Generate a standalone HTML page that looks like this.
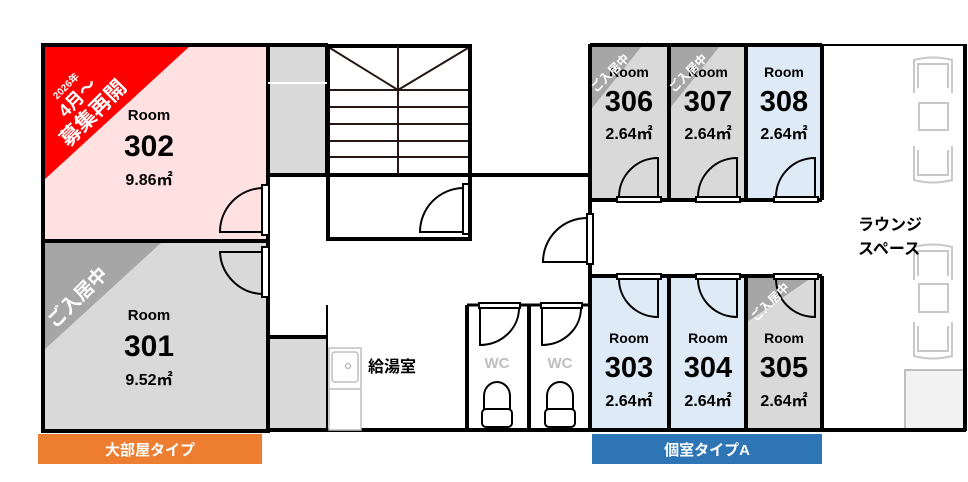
<!DOCTYPE html>
<html><head><meta charset="utf-8"><style>
html,body{margin:0;padding:0;background:#fff;width:968px;height:482px;overflow:hidden}
svg{display:block}
text{font-family:"Liberation Sans","Noto Sans CJK JP",sans-serif;font-weight:bold}
</style></head><body>
<svg width="968" height="482" viewBox="0 0 968 482" xmlns="http://www.w3.org/2000/svg">
<rect x="44" y="46" width="223" height="194" fill="#ffe1e1"/>
<rect x="44" y="242" width="223" height="188" fill="#d9d9d9"/>
<rect x="268" y="46" width="59" height="36" fill="#d9d9d9"/>
<rect x="268" y="84" width="59" height="90" fill="#d9d9d9"/>
<rect x="268" y="337" width="59" height="93" fill="#d9d9d9"/>
<rect x="592" y="46" width="76" height="154" fill="#d9d9d9"/>
<rect x="670" y="46" width="75" height="154" fill="#d9d9d9"/>
<rect x="747" y="46" width="75" height="154" fill="#deebf7"/>
<rect x="592" y="276" width="76" height="154" fill="#deebf7"/>
<rect x="670" y="276" width="75" height="154" fill="#deebf7"/>
<rect x="747" y="276" width="75" height="154" fill="#d9d9d9"/>
<rect x="905" y="370" width="60" height="60" fill="#f2f2f2" stroke="#bfbfbf" stroke-width="2"/>

<polygon points="44,46 190,46 44,180" fill="#ff0000"/>
<polygon points="44,242 162,242 44,350" fill="#a6a6a6"/>
<polygon points="592,46 642,46 592,108" fill="#a6a6a6"/>
<polygon points="670,46 720,46 670,108" fill="#a6a6a6"/>
<polygon points="747,276 814,276 747,322" fill="#a6a6a6"/>

<g stroke="#000" stroke-width="4" fill="none">
<rect x="43" y="45" width="225" height="386"/>
<line x1="43" y1="241" x2="268" y2="241"/>
<line x1="268" y1="45" x2="328" y2="45"/>
<line x1="327" y1="45" x2="327" y2="176"/>
<line x1="268" y1="175" x2="592" y2="175"/>
<line x1="268" y1="337" x2="327" y2="337"/>
<line x1="268" y1="430" x2="592" y2="430"/>
<rect x="328" y="46" width="142" height="193"/>
<line x1="590" y1="44" x2="590" y2="431"/>
<line x1="590" y1="45" x2="822" y2="45"/>
<line x1="590" y1="200" x2="822" y2="200"/>
<line x1="590" y1="276" x2="822" y2="276"/>
<line x1="669" y1="45" x2="669" y2="200"/>
<line x1="746" y1="45" x2="746" y2="200"/>
<line x1="822" y1="45" x2="822" y2="200"/>
<line x1="669" y1="276" x2="669" y2="430"/>
<line x1="746" y1="276" x2="746" y2="430"/>
<line x1="822" y1="276" x2="822" y2="430"/>
<line x1="590" y1="430" x2="966" y2="430"/>
<line x1="965" y1="44" x2="965" y2="431"/>
<line x1="467" y1="305" x2="467" y2="430"/>
<line x1="529" y1="305" x2="529" y2="430"/>
</g>
<line x1="822" y1="45" x2="965" y2="45" stroke="#000" stroke-width="2"/>
<line x1="268" y1="83" x2="327" y2="83" stroke="#fff" stroke-width="2"/>
<line x1="327" y1="305" x2="327" y2="430" stroke="#000" stroke-width="2"/>
<line x1="467" y1="305" x2="590" y2="305" stroke="#000" stroke-width="3"/>

<g stroke="#231815" stroke-width="2">
<line x1="398" y1="46" x2="398" y2="174"/>
<line x1="330" y1="90" x2="468" y2="90"/>
<line x1="330" y1="107" x2="468" y2="107"/>
<line x1="330" y1="124" x2="468" y2="124"/>
<line x1="330" y1="141" x2="468" y2="141"/>
<line x1="330" y1="157" x2="468" y2="157"/>
<line x1="330" y1="48" x2="398" y2="90"/>
<line x1="468" y1="48" x2="398" y2="90"/>
</g>

<g stroke="#000" stroke-width="2" fill="#fff">
<rect x="262" y="185" width="7" height="50"/>
<path d="M262 232 L220 232 A44 44 0 0 1 262 188" fill="none"/>
<rect x="262" y="247" width="7" height="50"/>
<path d="M262 252 L220 252 A44 44 0 0 0 262 294" fill="none"/>
<rect x="463" y="184" width="6" height="50"/>
<path d="M463 232 L420 232 A44 44 0 0 1 463 188" fill="none"/>
<rect x="587" y="214" width="6" height="50"/>
<path d="M587 262 L543 262 A44 44 0 0 1 587 218" fill="none"/>
<rect x="617" y="197" width="44" height="5"/><path d="M619 197 A39 39 0 0 1 658 158 L658 197" fill="none"/>
<rect x="696" y="197" width="44" height="5"/><path d="M698 197 A39 39 0 0 1 737 158 L737 197" fill="none"/>
<rect x="774" y="197" width="44" height="5"/><path d="M776 197 A39 39 0 0 1 815 158 L815 197" fill="none"/>
<rect x="617" y="274" width="44" height="5"/><path d="M619 279 A39 38 0 0 0 658 317 L658 279" fill="none"/>
<rect x="696" y="274" width="44" height="5"/><path d="M698 279 A39 38 0 0 0 737 317 L737 279" fill="none"/>
<rect x="774" y="274" width="44" height="5"/><path d="M776 279 A39 38 0 0 0 815 317 L815 279" fill="none"/>
<rect x="479" y="303" width="41" height="5"/><path d="M480 308 L480 345 A39 37 0 0 0 519 308" fill="none"/>
<rect x="541" y="303" width="41" height="5"/><path d="M542 308 L542 345 A39 37 0 0 0 581 308" fill="none"/>
</g>
<g stroke="#000" stroke-width="2" fill="#fff">
<path d="M484 418 L484 396 A13 14 0 0 1 510 396 L510 418 Z"/><rect x="482" y="409" width="30" height="18" rx="4"/>
<path d="M547 418 L547 396 A13 14 0 0 1 573 396 L573 418 Z"/><rect x="545" y="409" width="30" height="18" rx="4"/>
</g>
<g stroke="#bfbfbf" stroke-width="1.5" fill="#fff">
<rect x="329" y="348" width="32" height="82"/>
<rect x="332" y="352" width="26" height="30" rx="3"/>
<circle cx="348" cy="366" r="2.5"/>
<line x1="329" y1="389" x2="361" y2="389"/>
</g>
<g stroke="#c8c8c8" stroke-width="2" fill="none">
<path d="M914 93 L914 60 Q933 55 952 60 L952 93 M918 88 L918 64 L948 64 L948 88"/>
<rect x="919" y="103" width="29" height="27"/>
<path d="M914 146 L914 180 Q933 185 952 180 L952 146 M918 150 L918 175 L948 175 L948 150"/>
<path d="M914 280 L914 247 Q933 242 952 247 L952 280 M918 276 L918 251 L948 251 L948 276"/>
<rect x="919" y="284" width="29" height="28"/>
<path d="M914 322 L914 356 Q933 361 952 356 L952 322 M918 326 L918 351 L948 351 L948 326"/>
</g>

<g fill="#000" text-anchor="middle">
<text x="149" y="120" font-size="15">Room</text>
<text x="149" y="156" font-size="30">302</text>
<text x="149" y="185" font-size="16">9.86㎡</text>
<text x="149" y="320" font-size="15">Room</text>
<text x="149" y="356" font-size="30">301</text>
<text x="149" y="385" font-size="16">9.52㎡</text>
<text x="629" y="77" font-size="14">Room</text>
<text x="629" y="111" font-size="29">306</text>
<text x="629" y="139" font-size="16">2.64㎡</text>
<text x="708" y="77" font-size="14">Room</text>
<text x="708" y="111" font-size="29">307</text>
<text x="708" y="139" font-size="16">2.64㎡</text>
<text x="784" y="77" font-size="14">Room</text>
<text x="784" y="111" font-size="29">308</text>
<text x="784" y="139" font-size="16">2.64㎡</text>
<text x="629" y="343" font-size="14">Room</text>
<text x="629" y="377" font-size="29">303</text>
<text x="629" y="406" font-size="16">2.64㎡</text>
<text x="708" y="343" font-size="14">Room</text>
<text x="708" y="377" font-size="29">304</text>
<text x="708" y="406" font-size="16">2.64㎡</text>
<text x="784" y="343" font-size="14">Room</text>
<text x="784" y="377" font-size="29">305</text>
<text x="784" y="406" font-size="16">2.64㎡</text>
<text x="497" y="368" font-size="15" fill="#bfbfbf">WC</text>
<text x="560" y="368" font-size="15" fill="#bfbfbf">WC</text>
</g>
<text x="368" y="372" font-size="16">給湯室</text>
<text x="858" y="230" font-size="16">ラウンジ</text>
<text x="858" y="254" font-size="16">スペース</text>

<g fill="#fff" text-anchor="middle">
<g transform="translate(84,104) rotate(-45)"><text x="0" y="-22" font-size="10">2026年</text><text x="0" y="-3" font-size="18">4月～</text><text x="0" y="20" font-size="21">募集再開</text></g>
<text transform="translate(82,302) rotate(-45)" font-size="19">ご入居中</text>
<text transform="translate(613,76) rotate(-45)" font-size="12">ご入居中</text>
<text transform="translate(691,76) rotate(-45)" font-size="12">ご入居中</text>
<text transform="translate(773,305) rotate(-45)" font-size="12">ご入居中</text>
</g>

<rect x="38" y="434" width="224" height="30" fill="#ed7d31"/>
<text x="150" y="455" font-size="15" fill="#fff" text-anchor="middle">大部屋タイプ</text>
<rect x="592" y="434" width="230" height="30" fill="#2e75b6"/>
<text x="707" y="455" font-size="15" fill="#fff" text-anchor="middle">個室タイプA</text>
</svg>
</body></html>
